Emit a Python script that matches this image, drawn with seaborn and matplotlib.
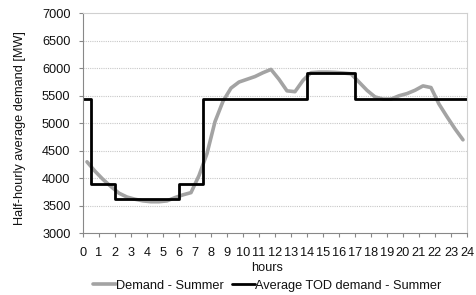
import numpy as np
import pandas as pd
import matplotlib
matplotlib.use("Agg")
import matplotlib.pyplot as plt
import seaborn as sns

# half-hourly demand, plotted at the middle of each half hour
demand_hours = np.arange(0.25, 24, 0.5)
demand_summer = [4300, 4130, 3980, 3850, 3730, 3660, 3620, 3590,
                 3575, 3575, 3590, 3650, 3700, 3740, 4050, 4450,
                 5030, 5400, 5640, 5750, 5800, 5850, 5920, 5980,
                 5800, 5590, 5575, 5780, 5920, 5930, 5930, 5925,
                 5915, 5900, 5750, 5600, 5480, 5440, 5440, 5500,
                 5540, 5600, 5680, 5650, 5350, 5120, 4900, 4700]

# time-of-day average blocks (start hour -> level)
tod_hours = [0, 0.5, 2, 6, 7.5, 14, 17, 24]
tod_demand = [5450, 3900, 3620, 3900, 5450, 5920, 5450, 5450]

y_ticks = list(range(3000, 7001, 500))
x_ticks = list(range(0, 25))

sns.set_style("white")
plt.rcParams['font.family'] = ['Liberation Sans', 'DejaVu Sans']
fs = 9.2
txt = '#111111'

fig = plt.figure(figsize=(4.77, 2.95), dpi=100)
ax = fig.add_axes([0.174, 0.209, 0.805, 0.746])

df_d = pd.DataFrame({'h': demand_hours, 'v': demand_summer})
df_t = pd.DataFrame({'h': tod_hours, 'v': tod_demand})

sns.lineplot(data=df_d, x='h', y='v', ax=ax, color='#a3a3a3', lw=2.6,
             label='Demand - Summer')
sns.lineplot(data=df_t, x='h', y='v', ax=ax, color='black', lw=2.0,
             drawstyle='steps-post', label='Average TOD demand - Summer')

ax.set_xlim(0, 24)
ax.set_ylim(3000, 7000)
ax.set_xticks(x_ticks)
ax.set_xticklabels([str(t) for t in x_ticks], fontsize=fs, color=txt)
ax.set_yticks(y_ticks)
ax.set_yticklabels([str(t) for t in y_ticks], fontsize=fs, color=txt)
ax.tick_params(axis='both', length=3, width=0.8, color='#888888',
               direction='out', bottom=True, left=True)
ax.tick_params(axis='x', pad=7)
ax.tick_params(axis='y', pad=6)

for yv in y_ticks[1:-1]:
    ax.axhline(yv, color='#c8c8c8', lw=0.8, ls=(0, (1, 1)), zorder=0)

ax.spines['left'].set_color('#888888')
ax.spines['bottom'].set_color('#888888')
ax.spines['top'].set_color('#d0d0d0')
ax.spines['right'].set_color('#d0d0d0')
for s in ax.spines.values():
    s.set_linewidth(0.8)

ax.set_xlabel('hours', fontsize=fs, color=txt)
ax.xaxis.set_label_coords(0.479, -0.158)
ax.xaxis.label.set_va('center')
ax.set_ylabel('Half-hourly average demand [MW]', fontsize=fs, color=txt)
ax.yaxis.set_label_coords(-0.164, 0.479)
ax.yaxis.label.set_va('center')

handles, labels = ax.get_legend_handles_labels()
ax.get_legend().remove()
fig.legend(handles, labels, loc='center', bbox_to_anchor=(0.56, 0.031),
           ncol=2, frameon=False, fontsize=fs, handlelength=1.8,
           handletextpad=0.05, columnspacing=0.6, borderaxespad=0,
           labelcolor=txt)

fig.savefig('out.png', dpi=100)
